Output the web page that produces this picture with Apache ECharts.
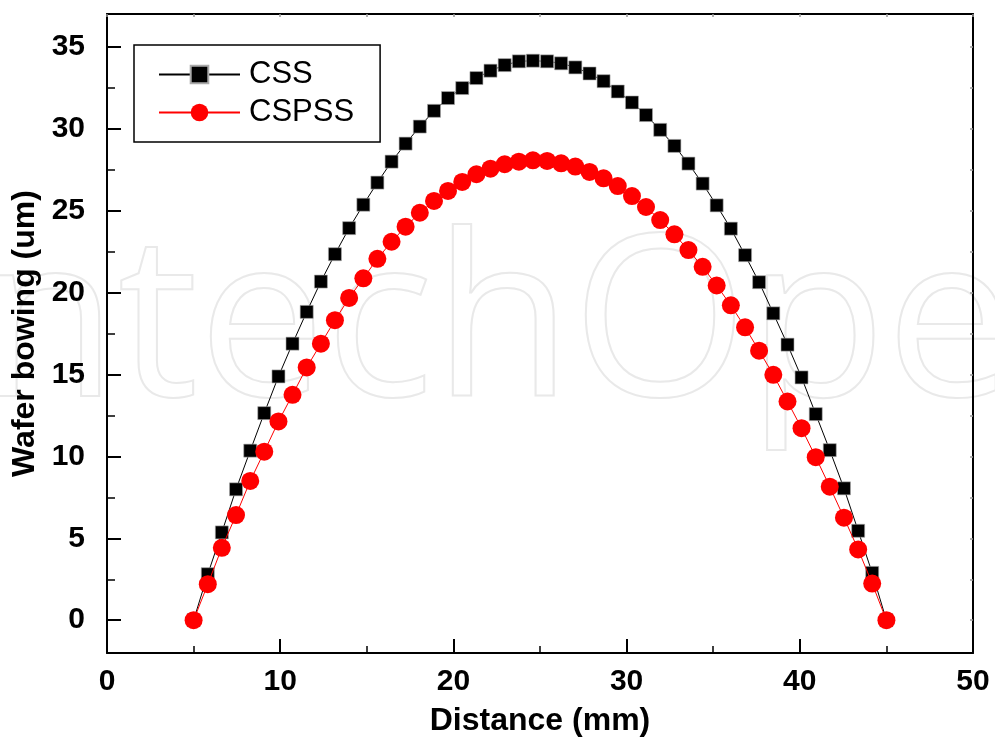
<!DOCTYPE html>
<html>
<head>
<meta charset="utf-8">
<script src="https://cdn.jsdelivr.net/npm/echarts@6/dist/echarts.min.js"></script>
<style>
html,body{margin:0;padding:0;background:#fff;}
#chart{width:995px;height:745px;}
</style>
</head>
<body>
<div id="chart"></div>
<script>
// Distance (mm)
var distance = [5.00, 5.82, 6.63, 7.45, 8.27, 9.08, 9.90, 10.71, 11.53, 12.35,
  13.16, 13.98, 14.80, 15.61, 16.43, 17.24, 18.06, 18.88, 19.69, 20.51,
  21.33, 22.14, 22.96, 23.78, 24.59, 25.41, 26.22, 27.04, 27.86, 28.67,
  29.49, 30.31, 31.12, 31.94, 32.76, 33.57, 34.39, 35.20, 36.02, 36.84,
  37.65, 38.47, 39.29, 40.10, 40.92, 41.73, 42.55, 43.37, 44.18, 45.00];
// Wafer bowing (um), CSS
var css = [0, 2.81, 5.36, 7.99, 10.35, 12.64, 14.88, 16.88, 18.82, 20.67,
  22.34, 23.93, 25.36, 26.71, 27.99, 29.09, 30.13, 31.09, 31.87, 32.48,
  33.09, 33.54, 33.88, 34.11, 34.15, 34.11, 33.99, 33.74, 33.37, 32.90,
  32.27, 31.60, 30.83, 29.93, 28.95, 27.87, 26.65, 25.32, 23.90, 22.28,
  20.63, 18.73, 16.82, 14.82, 12.58, 10.38, 8.05, 5.46, 2.89, 0];
// Wafer bowing (um), CSPSS
var cspss = [0, 2.20, 4.42, 6.42, 8.50, 10.29, 12.13, 13.76, 15.43, 16.88,
  18.31, 19.67, 20.87, 22.06, 23.10, 24.02, 24.87, 25.59, 26.20, 26.75,
  27.22, 27.56, 27.83, 27.99, 28.07, 28.03, 27.89, 27.69, 27.36, 26.97,
  26.50, 25.89, 25.22, 24.42, 23.55, 22.59, 21.57, 20.43, 19.22, 17.88,
  16.45, 14.98, 13.35, 11.72, 9.95, 8.15, 6.26, 4.32, 2.24, 0];
var seriesNames = ['CSS', 'CSPSS'];
var yMajorTicks = [0, 5, 10, 15, 20, 25, 30, 35];
var yMinorTicks = [2.5, 7.5, 12.5, 17.5, 22.5, 27.5, 32.5];
var yAllTicks = [0, 2.5, 5, 7.5, 10, 12.5, 15, 17.5, 20, 22.5, 25, 27.5, 30, 32.5, 35];
var xTitle = 'Distance (mm)';
var yTitle = 'Wafer bowing (um)';
var watermark = 'IntechOpen';

function pairs(xs, ys) {
  var out = [];
  for (var i = 0; i < xs.length; i++) out.push([xs[i], ys[i]]);
  return out;
}

var FONT = "'Liberation Sans', Arial, Helvetica, sans-serif";
var chart = echarts.init(document.getElementById('chart'), null, {renderer: 'canvas'});
chart.setOption({
  animation: false,
  backgroundColor: '#fff',
  graphic: [{
    type: 'text',
    left: -85,
    top: 218,
    z: -10,
    silent: true,
    style: {
      text: watermark,
      font: "400 226px 'Open Sans', sans-serif",
      fill: 'rgba(255,255,255,0)',
      stroke: '#e9e9e9',
      lineWidth: 2
    }
  }],
  grid: {left: 107, right: 22, top: 14, bottom: 92, containLabel: false},
  legend: {
    data: seriesNames,
    orient: 'vertical',
    left: 134,
    top: 45,
    itemWidth: 81,
    itemHeight: 22,
    itemGap: 7,
    padding: [14, 26, 14, 24],
    borderColor: '#000',
    borderWidth: 1.5,
    backgroundColor: '#fff',
    textStyle: {fontFamily: FONT, fontSize: 31, color: '#000', padding: [0, 0, 0, 4]}
  },
  xAxis: [{
    type: 'value', position: 'bottom', min: 0, max: 50, interval: 10,
    name: xTitle, nameLocation: 'middle', nameGap: 52,
    nameTextStyle: {fontFamily: FONT, fontSize: 32, fontWeight: 'bold', color: '#000'},
    axisLine: {show: true, onZero: false, lineStyle: {color: '#000', width: 2}},
    axisTick: {show: true, inside: true, length: 14, lineStyle: {color: '#000', width: 2}},
    minorTick: {show: true, splitNumber: 2, length: 7, lineStyle: {color: '#000', width: 1.5}},
    axisLabel: {fontFamily: FONT, fontSize: 30, fontWeight: 'bold', color: '#000', margin: 14},
    splitLine: {show: false}
  }, {
    type: 'value', position: 'top', min: 0, max: 50, interval: 5,
    axisLine: {show: true, onZero: false, lineStyle: {color: '#000', width: 2}},
    axisTick: {show: true, inside: true, length: 3, lineStyle: {color: '#999', width: 1.5}},
    axisLabel: {show: false},
    splitLine: {show: false}
  }],
  yAxis: [{
    type: 'value', position: 'left', min: -2, max: 37,
    name: yTitle, nameLocation: 'middle', nameGap: 64, nameRotate: 90,
    nameTextStyle: {fontFamily: FONT, fontSize: 32, fontWeight: 'bold', color: '#000'},
    axisLine: {show: true, onZero: false, lineStyle: {color: '#000', width: 2}},
    axisTick: {show: true, inside: true, length: 14, customValues: yMajorTicks, lineStyle: {color: '#000', width: 2}},
    axisLabel: {fontFamily: FONT, fontSize: 30, fontWeight: 'bold', color: '#000', margin: 22, customValues: yMajorTicks},
    splitLine: {show: false}
  }, {
    type: 'value', position: 'left', min: -2, max: 37,
    axisLine: {show: false},
    axisTick: {show: true, inside: true, length: 8, customValues: yMinorTicks, lineStyle: {color: '#000', width: 1.5}},
    axisLabel: {show: false},
    splitLine: {show: false}
  }, {
    type: 'value', position: 'right', min: -2, max: 37,
    axisLine: {show: true, onZero: false, lineStyle: {color: '#000', width: 2}},
    axisTick: {show: true, inside: true, length: 3, customValues: yAllTicks, lineStyle: {color: '#999', width: 1.5}},
    axisLabel: {show: false},
    splitLine: {show: false}
  }],
  series: [{
    name: seriesNames[0],
    type: 'line',
    xAxisIndex: 0, yAxisIndex: 0,
    data: pairs(distance, css),
    symbol: 'rect',
    symbolSize: 13,
    showAllSymbol: true,
    lineStyle: {color: '#000', width: 1},
    itemStyle: {color: '#000', borderColor: '#aaa', borderWidth: 0.6},
    z: 3
  }, {
    name: seriesNames[1],
    type: 'line',
    xAxisIndex: 0, yAxisIndex: 0,
    data: pairs(distance, cspss),
    symbol: 'circle',
    symbolSize: 18,
    showAllSymbol: true,
    lineStyle: {color: '#ff0000', width: 1},
    itemStyle: {color: '#ff0000'},
    z: 4
  }]
});
</script>
</body>
</html>
